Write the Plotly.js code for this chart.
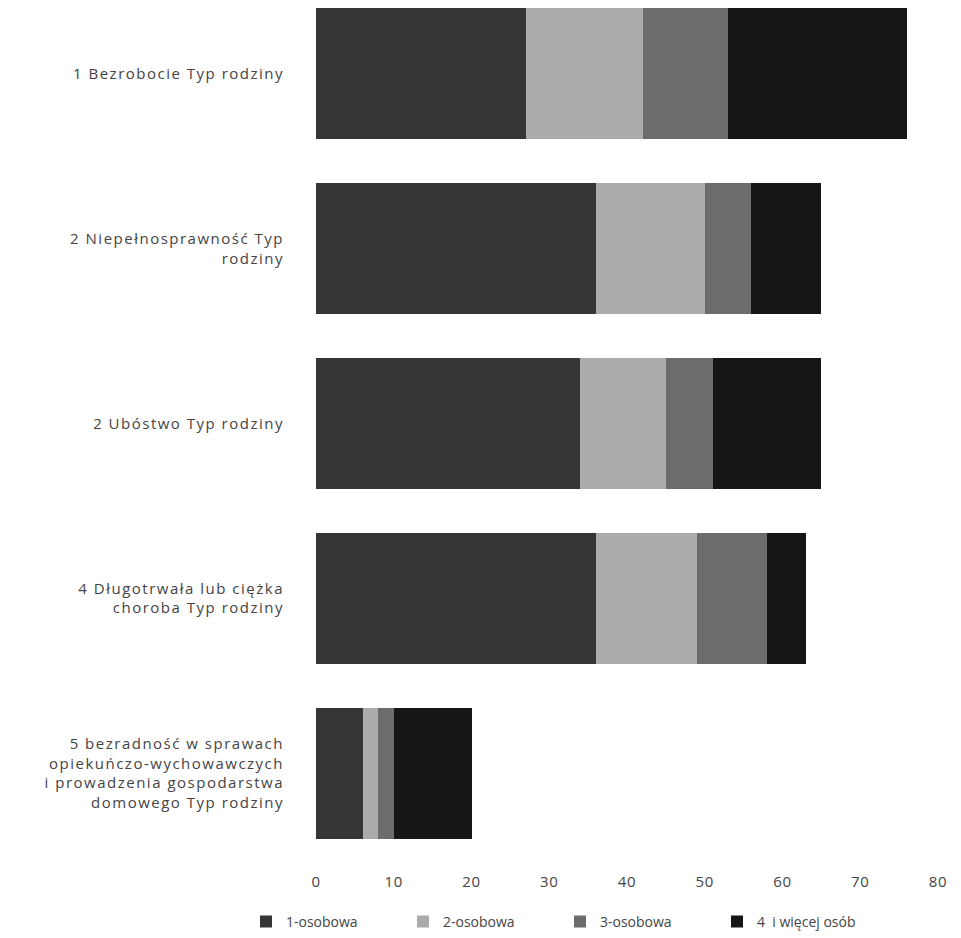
<!DOCTYPE html>
<html>
<head>
<meta charset="utf-8">
<script src="https://cdn.plot.ly/plotly-3.0.1.min.js"></script>
<style>
  html, body { margin: 0; padding: 0; background: #fff; }
  #chart { width: 961px; height: 938px; }
  #chart .ytick text { letter-spacing: 1.5px; }
  #chart .xtick text { letter-spacing: 0.6px; }
</style>
</head>
<body>
<div id="chart"></div>
<script>
const categories = [
  "1 Bezrobocie Typ rodziny",
  "2 Niepełnosprawność Typ<br>rodziny",
  "2 Ubóstwo Typ rodziny",
  "4 Długotrwała lub ciężka<br>choroba Typ rodziny",
  "5 bezradność w sprawach<br>opiekuńczo-wychowawczych<br>i prowadzenia gospodarstwa<br>domowego Typ rodziny"
];
const seriesNames = ["1-osobowa", "2-osobowa", "3-osobowa", "4 \u00a0i więcej osób"];
const jedno = [27, 36, 34, 36, 6];
const dwu = [15, 14, 11, 13, 2];
const trzy = [11, 6, 6, 9, 2];
const czteryPlus = [23, 9, 14, 5, 10];
const xTicks = [0, 10, 20, 30, 40, 50, 60, 70, 80];

const colors = ["#353535", "#ababab", "#6c6c6c", "#161616"];
const values = [jedno, dwu, trzy, czteryPlus];

const traces = values.map((v, i) => ({
  type: "bar",
  orientation: "h",
  name: seriesNames[i],
  x: v,
  y: categories,
  marker: { color: colors[i], line: { width: 0 } },
  hoverinfo: "x+name"
}));

const plotL = 316, plotR = 23, plotB = 76, H = 938;
const plotH = H - plotB;
const layout = {
  width: 961,
  height: H,
  barmode: "stack",
  bargap: 0.25,
  paper_bgcolor: "#ffffff",
  plot_bgcolor: "#ffffff",
  font: { family: "Open Sans, sans-serif", size: 14, color: "#444444" },
  margin: { l: plotL, r: plotR, t: 0, b: plotB },
  xaxis: {
    range: [0, 80],
    tickvals: xTicks,
    ticktext: xTicks.map(String),
    showgrid: false,
    zeroline: false,
    showline: false,
    ticks: "outside",
    ticklen: 10,
    tickcolor: "rgba(0,0,0,0)",
    tickfont: { size: 15, color: "#444444" }
  },
  yaxis: {
    type: "category",
    range: [4.485, -0.421],
    showgrid: false,
    zeroline: false,
    showline: false,
    ticks: "outside",
    ticklen: 28,
    tickcolor: "rgba(0,0,0,0)",
    tickfont: { size: 15, color: "#444444" }
  },
  showlegend: true,
  legend: {
    orientation: "h",
    x: (246 - plotL) / (961 - plotL - plotR),
    xref: "paper",
    y: -(910 - plotH) / plotH,
    yref: "paper",
    xanchor: "left",
    yanchor: "top",
    entrywidth: 112,
    entrywidthmode: "pixels",
    traceorder: "normal",
    font: { size: 14, color: "#444444" },
    itemwidth: 30
  }
};

Plotly.newPlot("chart", traces, layout, { displayModeBar: false, staticPlot: true });
</script>
</body>
</html>
